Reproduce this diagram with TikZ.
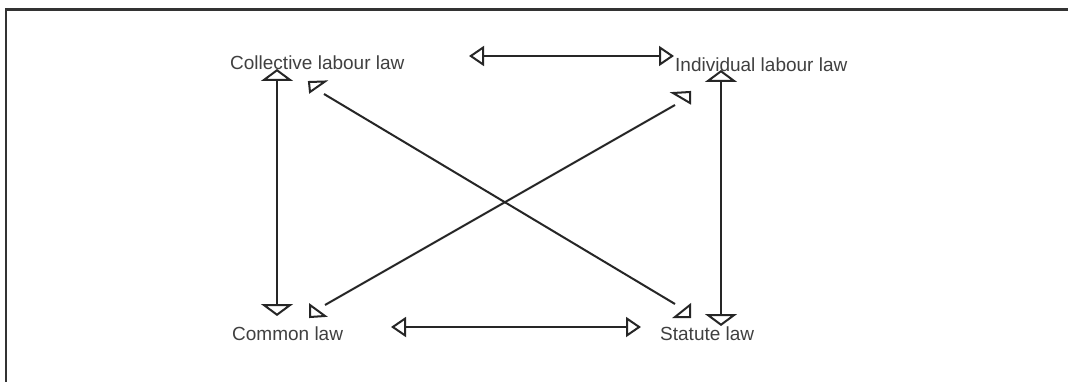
\documentclass[tikz,border=0pt]{standalone}
\usepackage{fontspec}
\setmainfont{Liberation Sans}
\usetikzlibrary{arrows.meta}
\begin{document}
\begin{tikzpicture}[x=1pt,y=-1pt,
  lbl/.style={font=\fontsize{19}{22}\selectfont, text=black!75, inner sep=0pt, anchor=base west},
  ln/.style={line width=2pt, draw=black!85},
  harr/.style={ln, {Triangle[open,length=15pt,width=20pt]}-{Triangle[open,length=15pt,width=20pt]}},
  varr/.style={ln, {Triangle[open,length=12pt,width=32pt]}-{Triangle[open,length=12pt,width=32pt]}},
  tri/.style={ln, line join=miter}]
\useasboundingbox (0,0) rectangle (1068,382);
\fill[white] (0,0) rectangle (1068,382);
% frame
\draw[line width=2.4pt, draw=black!80] (6,382) -- (6,9.5) -- (1068,9.5);
% labels
\node[lbl] (coll) at (230,70) {Collective labour law};
\node[lbl] (indiv) at (675,71.5) {Individual labour law};
\node[lbl] (comm) at (232,340) {Common law};
\node[lbl] (stat) at (660,340) {Statute law};
% endpoints
\coordinate (ta) at (469,56);
\coordinate (tb) at (674,56);
\coordinate (ba) at (391,327);
\coordinate (bb) at (641,327);
\coordinate (la) at (277,69);
\coordinate (lb) at (277,316);
\coordinate (ra) at (721,70);
\coordinate (rb) at (721,326);
\coordinate (d1a) at (324,94);
\coordinate (d1b) at (675,304);
\coordinate (d2a) at (325,305);
\coordinate (d2b) at (675,105);
% arrows
\draw[harr] (ta) -- (tb);
\draw[harr] (ba) -- (bb);
\draw[varr] (la) -- (lb);
\draw[varr] (ra) -- (rb);
\draw[ln] (d1a) -- (d1b);
\draw[ln] (d2a) -- (d2b);
% small detached heads
\draw[tri] (309,82) -- (325,81.5) -- (310,92) -- cycle;
\draw[tri] (690,305) -- (690,317) -- (675,317) -- cycle;
\draw[tri] (310,305) -- (310,317) -- (325,316) -- cycle;
\draw[tri] (673,93) -- (690,92) -- (690,103) -- cycle;
\end{tikzpicture}
\end{document}
